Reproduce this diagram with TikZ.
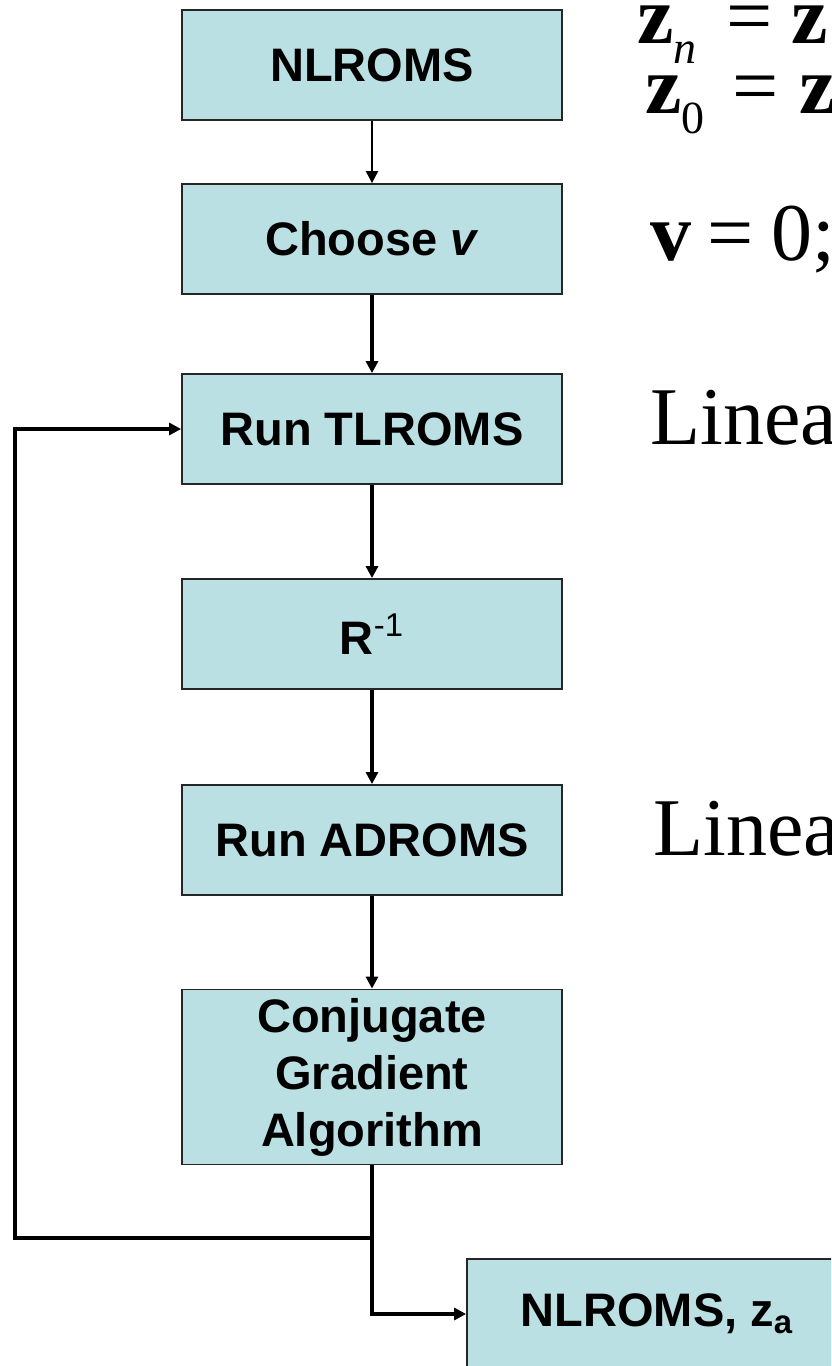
\documentclass[tikz,border=0pt]{standalone}
\usepackage{fontspec}
\setmainfont{Liberation Serif}
\newfontfamily\boxfont{Liberation Sans}
\usetikzlibrary{arrows.meta}

\definecolor{boxfill}{RGB}{186,224,227}

\newcommand{\subtxt}[1]{\raisebox{-10pt}{\fontsize{23}{23}\selectfont #1}}

\begin{document}
\begin{tikzpicture}[
    x=0.5pt, y=-0.5pt,                      % <- 1 unit = one pixel of the sketch, y runs down
    stage/.style={rectangle, draw=black!85, line width=0.9pt, fill=boxfill,
      minimum width=190pt, minimum height=55pt, inner sep=2pt, align=center,
      font=\boxfont\bfseries\fontsize{23.5}{28.5}\selectfont},
    flow/.style={line width=2pt, -{Triangle[length=6pt,width=6pt]}},
    thinflow/.style={line width=1pt, -{Triangle[length=6pt,width=6pt]}},
    wire/.style={line width=2pt},
    sidetxt/.style={anchor=base west, inner sep=0pt, font=\fontsize{41}{48}\selectfont},
  ]

  % ---------- frame ----------
  \useasboundingbox (0,0) rectangle (831,1366);
  \clip (0,0) rectangle (831,1366);

  % ---------- stages ----------
  \node[stage] (nlroms) at (372,65)   {NLROMS};
  \node[stage] (choose) at (372,239)  {Choose \textit{v}};
  \node[stage] (tlroms) at (372,429)  {Run TLROMS};
  \node[stage] (rinv)   at (372,634)  {R\textsuperscript{\mdseries -1}};
  \node[stage] (adroms) at (372,840)  {Run ADROMS};
  \node[stage, minimum height=87.5pt] (cg) at (372,1077) {Conjugate\\Gradient\\Algorithm};
  \node[stage] (final)  at (657,1314) {NLROMS, z\textsubscript{a}};

  % ---------- connectors ----------
  \draw[thinflow] (nlroms) -- (choose);
  \draw[flow] (choose) -- (tlroms);
  \draw[flow] (tlroms) -- (rinv);
  \draw[flow] (rinv) -- (adroms);
  \draw[flow] (adroms) -- (cg);

  \coordinate (split) at (372,1238);
  \coordinate (loopcorner) at (15,1238);
  \draw[wire] (cg) -- (split);
  \draw[flow] (split) -- (loopcorner) |- (tlroms.west);   % back to TLROMS
  \draw[flow] (split) |- (final.west);                    % exit

  % ---------- notes on the right ----------
  \node[sidetxt] (eqzn) at (637,43)
    {\textbf{z}\subtxt{\itshape n}\hspace{15pt}=\hspace{9pt}\textbf{z}};
  \node[sidetxt] (eqzo) at (645,113)
    {\textbf{z}\subtxt{0}\hspace{14pt}=\hspace{10pt}\textbf{z}};
  \node[sidetxt] (eqv)  at (650,260) {\textbf{v}\hspace{8pt}=\hspace{9pt}0;};
  \node[sidetxt] (linA) at (650,444) {Linear};
  \node[sidetxt] (linB) at (653,855) {Linear};

\end{tikzpicture}
\end{document}
